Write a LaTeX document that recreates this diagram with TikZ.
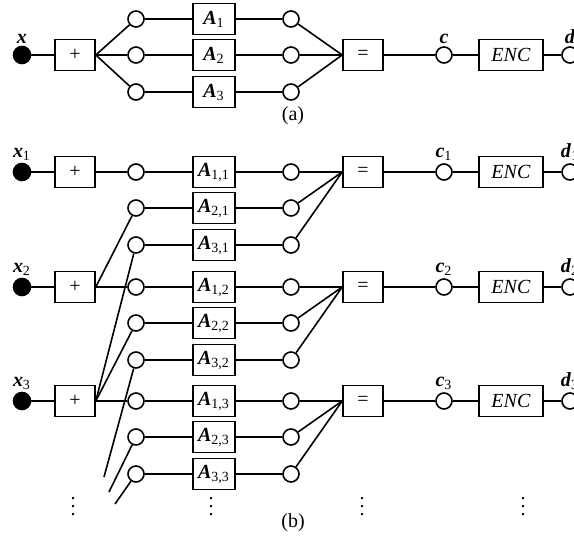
\documentclass[tikz,border=0pt]{standalone}
\usepackage{fontspec}
\setmainfont{Liberation Serif}
\newcommand{\bv}[1]{\textbf{\textit{#1}}}
\tikzset{
  blockbox/.style={
    draw=black,
    line width=0.8pt,
    minimum height=15.5pt,
    inner sep=0pt
  },
  plusbox/.style={blockbox, minimum width=20pt},
  matbox/.style={blockbox, minimum width=21pt},
  encbox/.style={blockbox, minimum width=32pt},
  port/.style={
    circle,
    draw=black,
    line width=0.8pt,
    fill=white,
    minimum size=8pt,
    inner sep=0pt
  },
  source/.style={port, fill=black, minimum size=8.5pt},
  varlabel/.style={inner sep=1pt},
  wire/.style={line width=0.8pt}
}

\begin{document}
\begin{tikzpicture}[x=0.5pt, y=-0.5pt, font=\fontsize{10}{12}\selectfont]
  \clip (0,0) rectangle (574,539);

  % (a)
  \node[source, label={[varlabel]above:\bv{x}}] (xa) at (22,55) {};
  \node[plusbox] (plusa) at (75,55) {+};
  \node[port] (lca1) at (136,19) {};
  \node[port] (lca2) at (136,55) {};
  \node[port] (lca3) at (136,92) {};
  \node[matbox] (aa1) at (214,19) {\bv{A}\textsubscript{1}};
  \node[matbox] (aa2) at (214,55) {\bv{A}\textsubscript{2}};
  \node[matbox] (aa3) at (214,92) {\bv{A}\textsubscript{3}};
  \node[port] (rca1) at (291,19) {};
  \node[port] (rca2) at (291,55) {};
  \node[port] (rca3) at (291,92) {};
  \node[plusbox] (eqa) at (363,55) {=};
  \node[port, label={[varlabel]above:\bv{c}}] (ca) at (444,55) {};
  \node[encbox] (enca) at (511,55) {\textit{ENC}};
  \node[port, label={[varlabel]above:\bv{d}}] (da) at (570,55) {};
  \node (capa) at (293,116) {(a)};

  \draw[wire] (xa) -- (plusa);
  \foreach \i in {1,2,3}
    \draw[wire] (plusa.east) -- (lca\i) -- (aa\i) -- (rca\i) -- (eqa.west);
  \draw[wire] (eqa) -- (ca) -- (enca) -- (da);

  % (b)
  \foreach \k/\y in {1/172, 2/287, 3/401} {
    \node[source, label={[varlabel]above:\bv{x}\textsubscript{\k}}] (xb\k) at (22,\y) {};
    \node[plusbox] (plusb\k) at (75,\y) {+};
    \node[plusbox] (eqb\k) at (363,\y) {=};
    \foreach \i/\dy in {1/0, 2/36, 3/73} {
      \node[port] (lc\i\k) at (136,\y+\dy) {};
      \node[matbox] (a\i\k) at (214,\y+\dy) {\bv{A}\textsubscript{\i,\k}};
      \node[port] (rc\i\k) at (291,\y+\dy) {};
      \draw[wire] (lc\i\k) -- (a\i\k) -- (rc\i\k) -- (eqb\k.west);
    }
    \node[port, label={[varlabel]above:\bv{c}\textsubscript{\k}}] (cb\k) at (444,\y) {};
    \node[encbox] (encb\k) at (511,\y) {\textit{ENC}};
    \node[port, label={[varlabel]above:\bv{d}\textsubscript{\k}}] (db\k) at (570,\y) {};
    \draw[wire] (xb\k) -- (plusb\k) -- (lc1\k);
    \draw[wire] (eqb\k) -- (cb\k) -- (encb\k) -- (db\k);
  }

  \draw[wire] (plusb2.east) -- (lc21);
  \draw[wire] (plusb3.east) -- (lc22);
  \draw[wire] (plusb3.east) -- (lc31);

  \coordinate (end32) at (104,477);
  \coordinate (end23) at (109,492);
  \coordinate (end33) at (115,504);
  \draw[wire] (lc32) -- (end32);
  \draw[wire] (lc23) -- (end23);
  \draw[wire] (lc33) -- (end33);

  \node (dotsplus) at (73,501) {$\vdots$};
  \node (dotsmat) at (211,501) {$\vdots$};
  \node (dotseq) at (362,501) {$\vdots$};
  \node (dotsenc) at (523,501) {$\vdots$};
  \node (capb) at (293,523) {(b)};
\end{tikzpicture}
\end{document}
